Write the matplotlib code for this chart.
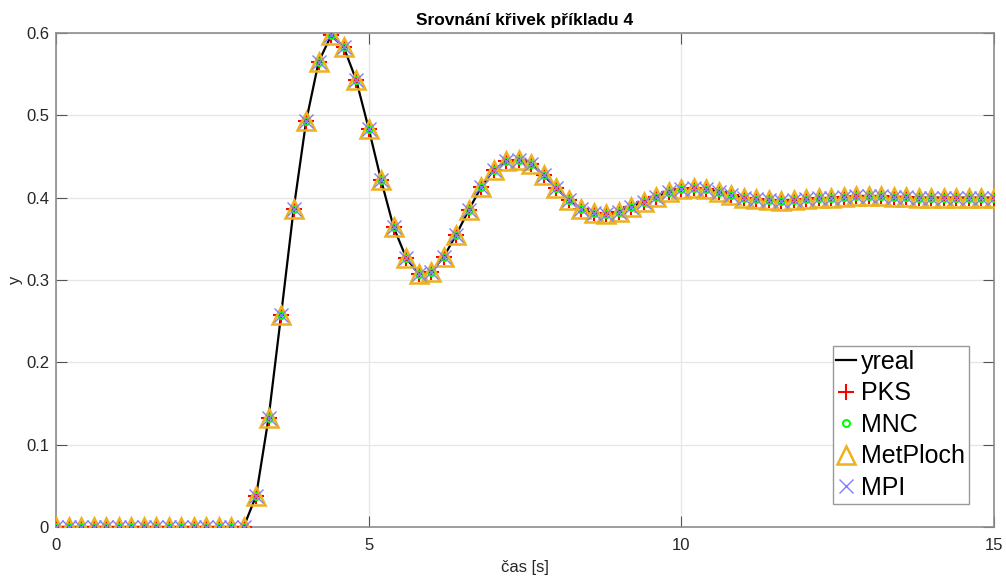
import numpy as np
import matplotlib
matplotlib.use('Agg')
import matplotlib.pyplot as plt

plt.rcParams['font.family'] = ['Liberation Sans', 'DejaVu Sans']

# sample times (0 .. 15 s, step 0.2 s)
t = np.linspace(0, 15, 76)

y_real = [0.0] * 16 + [
    0.038, 0.133, 0.258, 0.386, 0.493, 0.565, 0.597, 0.583, 0.543, 0.484,
    0.421, 0.364, 0.327, 0.307, 0.310, 0.328, 0.355, 0.385, 0.413, 0.434,
    0.444, 0.446, 0.441, 0.427, 0.412, 0.397, 0.386, 0.381, 0.380, 0.383,
    0.389, 0.395, 0.401, 0.407, 0.411, 0.412, 0.411, 0.407, 0.403, 0.400,
    0.398, 0.397, 0.396, 0.397, 0.398, 0.399, 0.400, 0.401, 0.402, 0.402,
    0.402, 0.401, 0.401, 0.400, 0.400, 0.400, 0.400, 0.400, 0.400, 0.400,
]
# identified models give practically the same response
y_pks = list(y_real)
y_mnc = list(y_real)
y_metploch = list(y_real)
y_mpi = list(y_real)

fig = plt.figure(figsize=(10.06, 5.78), dpi=100)
ax = fig.add_axes([0.0557, 0.0882, 0.9323, 0.8547])

ax.plot(t, y_real, color='black', lw=1.6, label='yreal', zorder=3)
ax.plot(t, y_pks, '+', color='red', ms=11, mew=1.5, label='PKS', zorder=4)
ax.plot(t, y_mnc, 'o', color='#00ff00', mfc='none', ms=5, mew=1.5, label='MNC', zorder=5)
ax.plot(t, y_metploch, '^', color='#EDB120', mfc='none', ms=13, mew=1.8, label='MetPloch', zorder=6)
ax.plot(t, y_mpi, 'x', color='#7f7fff', ms=10, mew=1.0, label='MPI', zorder=7)

ax.set_xlim(0, 15)
ax.set_ylim(0, 0.6)
ax.set_xticks([0, 5, 10, 15])
ax.set_yticks([0, 0.1, 0.2, 0.3, 0.4, 0.5, 0.6])
ax.set_yticklabels(['0', '0.1', '0.2', '0.3', '0.4', '0.5', '0.6'])
ax.grid(True, color='#e6e6e6', lw=0.9)
ax.set_axisbelow(True)

for s in ax.spines.values():
    s.set_color('#8c8c8c')
    s.set_linewidth(1.2)
ax.tick_params(direction='in', length=8, width=0.8, color='#555555',
               labelsize=12, labelcolor='#262626', top=True, right=True)
ax.tick_params(axis='x', pad=8)
ax.tick_params(axis='y', pad=5)

ax.set_xlabel('čas [s]', fontsize=12, color='#262626', labelpad=5)
ax.set_ylabel('y', fontsize=12, color='#262626', labelpad=2)
ax.set_title('Srovnání křivek příkladu 4', fontsize=12.5, fontweight='bold', pad=6)

leg = ax.legend(loc='upper left', bbox_to_anchor=(0.828, 0.366), fontsize=18,
                handlelength=0.8, handletextpad=0.2, labelspacing=0.3,
                borderpad=0.15, borderaxespad=0, fancybox=False,
                framealpha=1, edgecolor='#999999')
leg.get_frame().set_linewidth(1.0)

fig.savefig('out.png', dpi=100)
